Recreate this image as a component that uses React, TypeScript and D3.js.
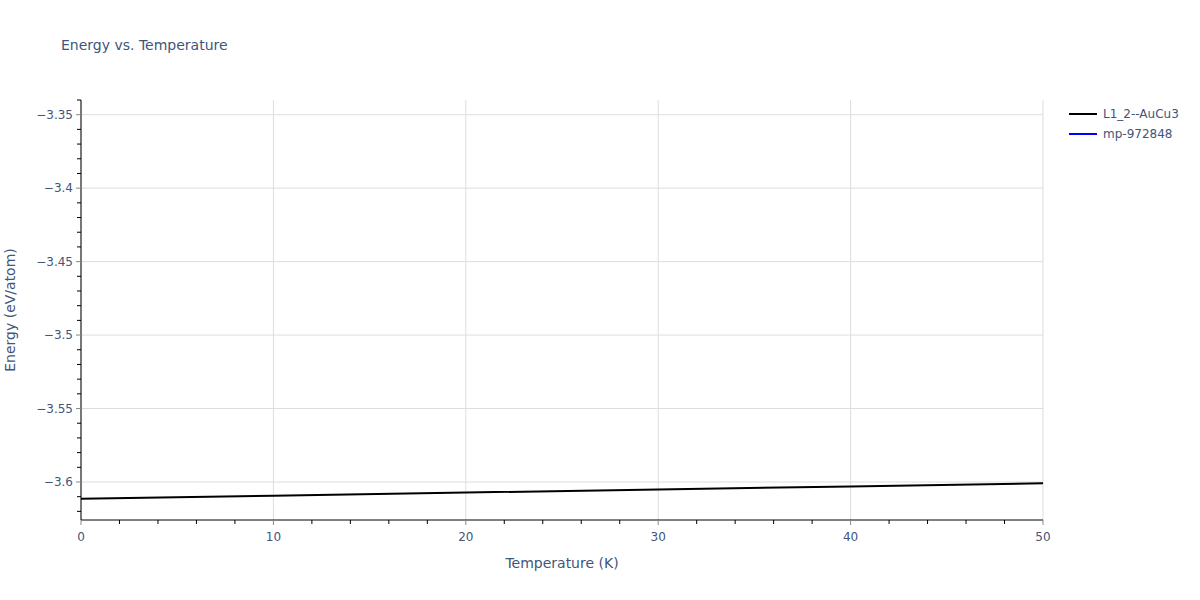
import React from "react";
import * as d3 from "d3";

const temperatures = [0, 10, 20, 30, 40, 50];
const energyL12 = [-3.6114, -3.6093, -3.6072, -3.6051, -3.603, -3.6009];
const energyMp: number[] = [];
const seriesNames = ["L1_2--AuCu3", "mp-972848"];
const seriesColors = ["#000000", "#0000ff"];
const xTicks = [0, 10, 20, 30, 40, 50];
const yTicks = [-3.6, -3.55, -3.5, -3.45, -3.4, -3.35];

const W = 1200;
const H = 600;
const M = { left: 81, right: 1043, top: 100, bottom: 520 };
const FONT = '"DejaVu Sans", Verdana, sans-serif';
const TXT = "#42557a";

export default function App() {
  const x = d3.scaleLinear().domain([0, 50]).range([M.left, M.right]);
  const y = d3.scaleLinear().domain([-3.62587, -3.34]).range([M.bottom, M.top]);

  const xMinor = d3.range(0, 50.001, 2).filter((v) => Math.abs(v % 10) > 1e-6);
  const yMinor = d3
    .range(-3.62, -3.3399, 0.01)
    .map((v) => Math.round(v * 100) / 100)
    .filter((v) => !yTicks.some((t) => Math.abs(t - v) < 1e-6));

  const line = d3
    .line<number>()
    .x((_, i) => x(temperatures[i]))
    .y((d) => y(d));

  const fmt = (v: number) => (v < 0 ? "\u2212" + String(Math.abs(v)) : String(v));

  const series = [energyL12, energyMp];

  return (
    <svg
      width={W}
      height={H}
      style={{ position: "absolute", left: 0, top: 0, background: "#fff" }}
      fontFamily={FONT}
    >
      <text x={61} y={50} fontSize={14} fill={TXT}>
        Energy vs. Temperature
      </text>

      {/* grid */}
      {xTicks.map((t) => (
        <line key={"gx" + t} x1={x(t)} x2={x(t)} y1={M.top} y2={M.bottom} stroke="#dddddd" strokeWidth={1} />
      ))}
      {yTicks.map((t) => (
        <line key={"gy" + t} x1={M.left} x2={M.right} y1={y(t)} y2={y(t)} stroke="#dddddd" strokeWidth={1} />
      ))}

      {/* series */}
      {series.map((s, i) =>
        s.length ? (
          <path key={"s" + i} d={line(s) || ""} fill="none" stroke={seriesColors[i]} strokeWidth={2} />
        ) : null
      )}

      {/* axes */}
      <line x1={M.left} x2={M.right} y1={M.bottom} y2={M.bottom} stroke="#000" strokeWidth={1} />
      <line x1={M.left} x2={M.left} y1={M.top} y2={M.bottom} stroke="#000" strokeWidth={1} />

      {xTicks.map((t) => (
        <g key={"xt" + t}>
          <line x1={x(t)} x2={x(t)} y1={M.bottom} y2={M.bottom + 5} stroke="#888" strokeWidth={1} />
          <text x={x(t)} y={M.bottom + 21} fontSize={12} fill={TXT} textAnchor="middle">
            {fmt(t)}
          </text>
        </g>
      ))}
      {xMinor.map((t) => (
        <line key={"xm" + t} x1={x(t)} x2={x(t)} y1={M.bottom} y2={M.bottom + 4} stroke="#000" strokeWidth={1} />
      ))}

      {yTicks.map((t) => (
        <g key={"yt" + t}>
          <line x1={M.left - 5} x2={M.left} y1={y(t)} y2={y(t)} stroke="#888" strokeWidth={1} />
          <text x={M.left - 8} y={y(t) + 4} fontSize={12} fill={TXT} textAnchor="end">
            {fmt(t)}
          </text>
        </g>
      ))}
      {yMinor.map((t) => (
        <line key={"ym" + t} x1={M.left - 4} x2={M.left} y1={y(t)} y2={y(t)} stroke="#000" strokeWidth={1} />
      ))}

      {/* axis titles */}
      <text x={(M.left + M.right) / 2} y={568} fontSize={14} fill={TXT} textAnchor="middle">
        Temperature (K)
      </text>
      <text
        transform={`translate(15, ${(M.top + M.bottom) / 2}) rotate(-90)`}
        fontSize={14}
        fill={TXT}
        textAnchor="middle"
      >
        Energy (eV/atom)
      </text>

      {/* legend */}
      {seriesNames.map((n, i) => (
        <g key={"lg" + i} transform={`translate(1069, ${114 + i * 20})`}>
          <line x1={0} x2={28} y1={0} y2={0} stroke={seriesColors[i]} strokeWidth={2} />
          <text x={34} y={4} fontSize={12} fill={TXT}>
            {n}
          </text>
        </g>
      ))}
    </svg>
  );
}
